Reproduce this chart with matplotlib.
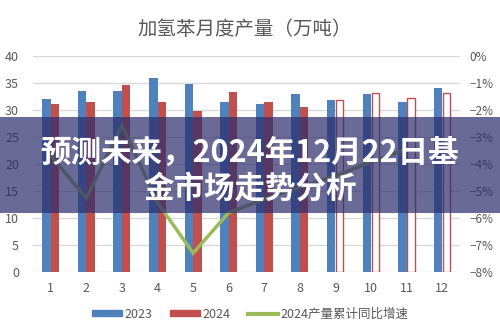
import matplotlib.pyplot as plt
from matplotlib.patches import Patch, Rectangle
from matplotlib.lines import Line2D
import numpy as np

plt.rcParams['font.family'] = ['Noto Sans CJK SC', 'DejaVu Sans']

# monthly output (10k tons)
months = list(range(1, 13))
out_2023 = [32.0, 33.6, 33.6, 36.0, 34.8, 31.4, 31.1, 32.9, 31.8, 33.0, 31.4, 34.0]
out_2024 = [31.1, 31.4, 34.6, 31.4, 29.8, 33.3, 31.4, 30.6, 31.9, 33.1, 32.2, 33.2]
hollow_from = 9  # months >= this drawn as outline only
# cumulative yoy growth 2024 (%)
yoy_months = [1, 2, 3, 4, 5, 6, 7, 8, 9, 10, 11]
yoy_2024 = [-3.7, -5.26, -2.56, -5.43, -7.3, -5.8, -5.3, -4.85, -4.44, -3.93, -3.44]

title = '加氢苯月度产量（万吨）'
banner_lines = ['预测未来，2024年12月22日基', '金市场走势分析']

blue = '#4f81bd'
red = '#c0504d'
green = '#9bbb59'
grid = '#d9d9d9'
txt = '#595959'

fig = plt.figure(figsize=(5, 3.33), dpi=100)
ax = fig.add_axes([0.066, 0.183, 0.854, 0.649])
ax2 = ax.twinx()
ax.set_zorder(1)
ax2.set_zorder(2)
ax.patch.set_visible(False)

x = np.array(months)
w = 0.24
ax.bar(x - w / 2, out_2023, width=w, color=blue, zorder=2)
for m, v in zip(months, out_2024):
    if m >= hollow_from:
        ax.bar(m + w / 2, v, width=w * 0.85, facecolor='white', edgecolor=red, linewidth=1.0, zorder=2)
    else:
        ax.bar(m + w / 2, v, width=w, color=red, zorder=2)

ax2.plot(yoy_months, yoy_2024, color=green, linewidth=2.5, solid_joinstyle='miter')

ax.set_xlim(0.5, 12.5)
ax.set_ylim(0, 40)
ax.set_yticks(range(0, 41, 5))
ax.yaxis.grid(True, color=grid, linewidth=1)
ax.set_axisbelow(True)
ax.set_xticks(months)
ax2.set_ylim(-8, 0)
ax2.set_yticks(range(-8, 1))
ax2.set_yticklabels([('−%d%%' % -v) if v < 0 else '0%' for v in range(-8, 1)])

for a in (ax, ax2):
    for s in a.spines.values():
        s.set_visible(False)
    a.tick_params(length=0, labelsize=9, colors=txt)
ax.tick_params(axis='y', pad=10)
ax2.tick_params(axis='y', pad=7, labelsize=8.5)
ax.tick_params(axis='x', pad=7)

fig.text(0.49, 0.91, title, ha='center', va='center', fontsize=14, color=txt)

handles = [Patch(color=blue, label='2023'), Patch(color=red, label='2024'),
           Line2D([], [], color=green, linewidth=3, label='2024产量累计同比增速')]
fig.legend(handles=handles, loc='center', bbox_to_anchor=(0.5, 0.057), ncol=3, frameon=False,
           fontsize=9, handlelength=2.4, handleheight=0.35, handletextpad=0.2, columnspacing=1.4,
           labelcolor=txt)

# overlay banner
fig.patches.append(Rectangle((0, 1 - 213 / 333), 1, 96 / 333, transform=fig.transFigure,
                             facecolor='#2b2b6b', alpha=0.7, zorder=10))
fig.text(0.5, 1 - 153 / 333, banner_lines[0], ha='center', va='center', fontsize=22,
         fontweight='bold', color='white', zorder=11)
fig.text(0.5, 1 - 189 / 333, banner_lines[1], ha='center', va='center', fontsize=22,
         fontweight='bold', color='white', zorder=11)

fig.savefig('out.png', dpi=100)
